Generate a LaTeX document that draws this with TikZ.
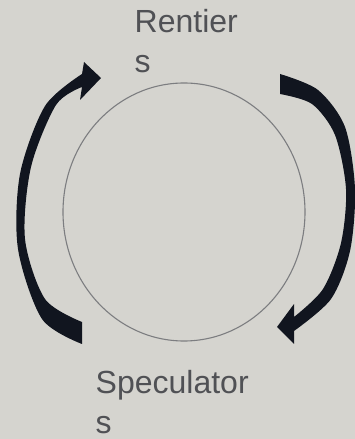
\documentclass[tikz,border=0pt]{standalone}
\usepackage{fontspec}
\setmainfont{Liberation Sans}
\definecolor{SlideGray}{HTML}{D5D4CF}
\definecolor{ArrowInk}{HTML}{11151F}
\definecolor{LabelGray}{HTML}{505155}
\definecolor{RingGray}{HTML}{7C7D80}
\begin{document}
\begin{tikzpicture}[x=1pt,y=1pt,
  role/.style={align=left,inner sep=0pt,text=LabelGray,font=\fontsize{32}{39.5}\selectfont},
  flow/.style={fill=ArrowInk}]
  \fill[SlideGray] (0,0) rectangle (355,439);
  \useasboundingbox (0,0) rectangle (355,439);
  \draw[RingGray,line width=1.1pt] (184,227) ellipse (121 and 129);
  \node[role,anchor=north west] (rentiers) at (134.5,429.5) {Rentier\\s};
  \node[role,anchor=north west] (speculators) at (95.5,68.5) {Speculator\\s};
  % left: speculators up to rentiers
  \fill[flow] plot[smooth] coordinates {(82,95) (42,120) (18,190) (20,265) (45,333) (82,365)} -- (84,377) -- (101,361) -- (80,339) -- plot[smooth] coordinates {(82,352) (56,334) (31,272) (25,200) (45,140) (82,117)} -- cycle;
  % right: rentiers down to speculators
  \fill[flow] plot[smooth] coordinates {(280,365) (318,349) (345,312) (355,250) (350,188) (331,140) (294,108)} -- (294,95) -- (277,112) -- (294,135) -- plot[smooth] coordinates {(294,122) (323,150) (341,196) (346,250) (335,304) (312,335) (280,345)} -- cycle;
\end{tikzpicture}
\end{document}
